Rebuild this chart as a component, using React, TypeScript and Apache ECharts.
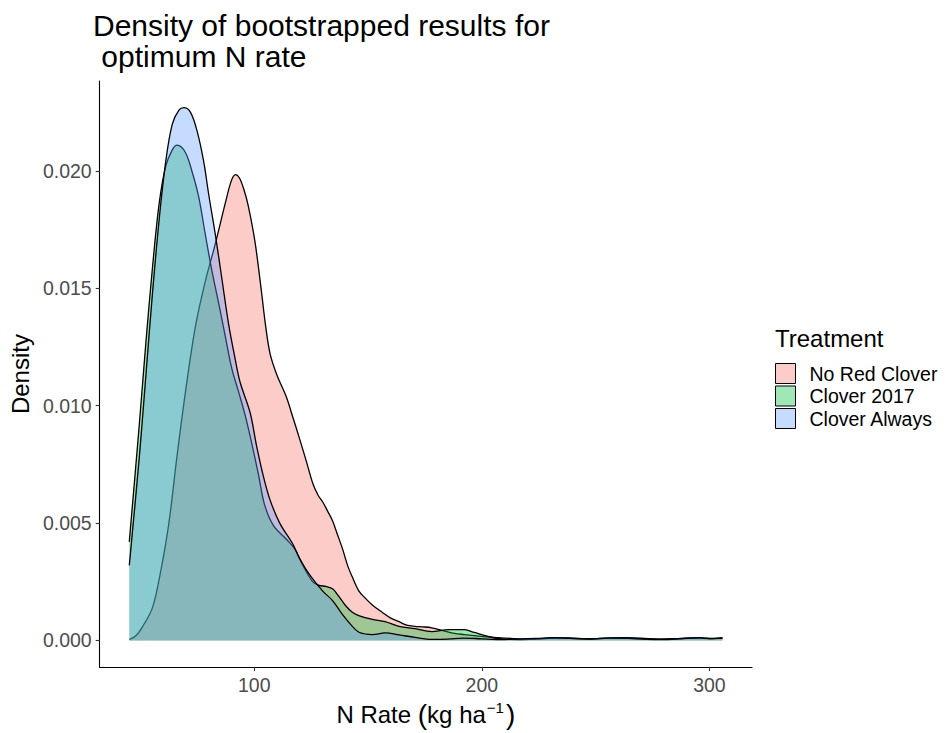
import React, { useEffect, useRef } from 'react';
import * as echarts from 'echarts';

// Kernel density estimates of the bootstrapped optimum N rate, per treatment.
const chartTitle = 'Density of bootstrapped results for\n optimum N rate';
const treatments = ['No Red Clover', 'Clover 2017', 'Clover Always'];
const fillColors = ['#F8766D', '#00BA38', '#619CFF'];
const xTicks = [100, 200, 300];
const yTicks = [0, 0.005, 0.01, 0.015, 0.02];

const noRedClover: [number, number][] = [
  [45.1, 0.00004], [48, 0.0002], [51, 0.0006], [55.3, 0.0014], [59, 0.003],
  [62.5, 0.005], [66, 0.0078], [69.8, 0.0106], [74.2, 0.0134], [78.5, 0.0153],
  [82.9, 0.0169], [87.2, 0.0186], [90, 0.0196], [91.8, 0.01985], [93.5, 0.0197],
  [95.5, 0.0192], [97.4, 0.0185], [100.3, 0.017], [103, 0.015], [105, 0.0134],
  [107, 0.0122], [110, 0.0113], [114, 0.0104], [117, 0.0095], [119.9, 0.0086],
  [123, 0.0076], [125.7, 0.0067], [128, 0.0062], [130.1, 0.0059], [132.3, 0.0055],
  [134.4, 0.0051], [136.6, 0.0045], [138.8, 0.0039], [141, 0.0032], [143.1, 0.0027],
  [146, 0.0021], [148.8, 0.0018], [152, 0.0015], [156.2, 0.0012], [160, 0.00095],
  [163.6, 0.0008], [167, 0.00065], [170.6, 0.0006], [174, 0.00058], [178, 0.00054],
  [183.7, 0.0004], [188, 0.0003], [192.4, 0.00025], [199.8, 0.00017], [207.2, 0.00012],
  [214, 0.00008], [222, 0.00005], [230, 0.0001], [238, 0.00011], [246, 0.00007],
  [254, 0.00009], [262, 0.00012], [270, 0.0001], [278, 0.00006], [286, 0.00008],
  [294, 0.00011], [300, 0.00007], [305.7, 0.00012],
];

const clover2017: [number, number][] = [
  [45.1, 0.0042], [49.5, 0.0092], [52.4, 0.0127], [55.3, 0.0159], [58.2, 0.0186],
  [61.1, 0.0202], [64, 0.0209], [66.1, 0.0211], [69.7, 0.0208], [72.6, 0.02],
  [75.6, 0.0189], [78.5, 0.0173], [81.3, 0.0158], [84.3, 0.0144], [87.2, 0.013],
  [90.1, 0.0116], [93.1, 0.0106], [96, 0.0096], [98.9, 0.0084], [101.8, 0.0071],
  [104.5, 0.0058], [108.4, 0.0049], [114.2, 0.0043], [117.8, 0.0039], [120.8, 0.0033],
  [125.7, 0.0025], [128.5, 0.00235], [131.5, 0.0023], [134.4, 0.0022], [137, 0.0019],
  [140, 0.0015], [143.1, 0.0012], [146.2, 0.00105], [151.9, 0.0009], [157.5, 0.0008],
  [163.6, 0.0006], [170.6, 0.0005], [178, 0.00038], [185.4, 0.00046], [192.4, 0.00046],
  [196.7, 0.00034], [202.8, 0.00017], [209.8, 0.00005], [216, 0.00004], [224, 0.00006],
  [232, 0.0001], [240, 0.00009], [248, 0.00006], [256, 0.0001], [264, 0.00009],
  [272, 0.00005], [280, 0.00004], [288, 0.00008], [296, 0.0001], [305.7, 0.00009],
];

const cloverAlways: [number, number][] = [
  [45.1, 0.0032], [49.5, 0.0078], [52.4, 0.0113], [55.3, 0.0148], [58.2, 0.0179],
  [61.1, 0.0204], [64, 0.022], [67, 0.0226], [69.1, 0.0227], [72, 0.0225],
  [74.9, 0.0217], [77.8, 0.0204], [80, 0.019], [82.9, 0.0173], [85.8, 0.0154],
  [88.7, 0.0135], [91.6, 0.012], [93.8, 0.011], [98.2, 0.0097], [101, 0.0083],
  [104, 0.007], [106.9, 0.006], [111.2, 0.005], [117, 0.0041], [119.9, 0.0035],
  [124.3, 0.0028], [130.1, 0.0021], [134.4, 0.0017], [138.8, 0.0011], [143.1, 0.0006],
  [146.2, 0.00034], [151.9, 0.00025], [157.5, 0.00032], [163.6, 0.00024], [170.6, 0.00013],
  [178, 0.00005], [185, 0.00006], [192, 0.0001], [200, 0.00007], [208, 0.00004],
  [216, 0.00006], [224, 0.00009], [232, 0.00012], [240, 0.00008], [248, 0.00006],
  [256, 0.00011], [264, 0.0001], [272, 0.00006], [280, 0.00005], [288, 0.00008],
  [296, 0.00012], [300, 0.00008], [305.7, 0.0001],
];

const FONT = "'Liberation Sans', Arial, Helvetica, sans-serif";
const FILL_ALPHA = 0.37;

function withAlpha(hex: string, a: number): string {
  const n = parseInt(hex.slice(1), 16);
  return `rgba(${(n >> 16) & 255}, ${(n >> 8) & 255}, ${n & 255}, ${a})`;
}

export default function App() {
  const ref = useRef<HTMLDivElement>(null);

  useEffect(() => {
    document.body.style.margin = '0';
    if (!ref.current) return;
    const chart = echarts.init(ref.current, undefined, { renderer: 'svg' });
    const groups = [noRedClover, clover2017, cloverAlways];

    chart.setOption({
      animation: false,
      backgroundColor: '#ffffff',
      title: {
        text: chartTitle,
        left: 93,
        top: 10,
        padding: 0,
        textStyle: {
          fontFamily: FONT,
          fontSize: 30,
          lineHeight: 31,
          fontWeight: 'normal',
          color: '#000000',
        },
      },
      grid: { left: 95, right: 194, top: 81, bottom: 61, containLabel: false },
      xAxis: {
        type: 'value',
        min: 32.1,
        max: 318.7,
        name: '{t|N Rate }{p|(}{t|kg ha}{s|−1}{p|)}',
        nameLocation: 'middle',
        nameGap: 27,
        nameTextStyle: {
          rich: {
            t: { fontFamily: FONT, fontSize: 24, color: '#000' },
            p: { fontFamily: FONT, fontSize: 28, color: '#000' },
            s: { fontFamily: FONT, fontSize: 15, color: '#000', verticalAlign: 'top', padding: [0, 2, 0, 1] },
          },
        },
        axisLine: { onZero: false, lineStyle: { color: '#000', width: 1.1 } },
        axisTick: { customValues: xTicks, length: 4, lineStyle: { color: '#333', width: 1.1 } },
        axisLabel: {
          customValues: xTicks,
          margin: 8,
          fontFamily: FONT,
          fontSize: 19.5,
          color: '#4D4D4D',
        },
        splitLine: { show: false },
      },
      yAxis: {
        type: 'value',
        min: -0.001135,
        max: 0.023835,
        name: 'Density',
        nameLocation: 'middle',
        nameGap: 62,
        nameTextStyle: { fontFamily: FONT, fontSize: 24, color: '#000' },
        axisLine: { onZero: false, lineStyle: { color: '#000', width: 1.1 } },
        axisTick: { customValues: yTicks, length: 4, lineStyle: { color: '#333', width: 1.1 } },
        axisLabel: {
          customValues: yTicks,
          margin: 8,
          fontFamily: FONT,
          fontSize: 19.5,
          color: '#4D4D4D',
          formatter: (v: number) => v.toFixed(3),
        },
        splitLine: { show: false },
      },
      legend: {
        orient: 'vertical',
        left: 775,
        top: 363,
        padding: 0,
        itemWidth: 20,
        itemHeight: 20,
        itemGap: 1.5,
        icon: 'rect',
        selectedMode: false,
        textStyle: {
          fontFamily: FONT,
          fontSize: 19.5,
          color: '#000',
          padding: [0, 0, 0, 9],
        },
        data: treatments.map((name, i) => ({
          name,
          itemStyle: {
            color: withAlpha(fillColors[i], FILL_ALPHA),
            borderColor: '#000',
            borderWidth: 1,
          },
        })),
      },
      graphic: [
        {
          type: 'text',
          left: 775,
          top: 326,
          style: {
            text: 'Treatment',
            fontFamily: FONT,
            fontSize: 24,
            fill: '#000',
          },
        },
      ],
      series: groups.map((data, i) => ({
        type: 'line',
        name: treatments[i],
        data,
        z: 2 + i,
        smooth: 0.35,
        symbol: 'none',
        silent: true,
        itemStyle: { color: withAlpha(fillColors[i], FILL_ALPHA) },
        lineStyle: { color: '#000', width: 1.3 },
        areaStyle: { color: fillColors[i], opacity: FILL_ALPHA },
      })),
    });

    return () => chart.dispose();
  }, []);

  return <div ref={ref} style={{ width: 946, height: 733 }} />;
}
